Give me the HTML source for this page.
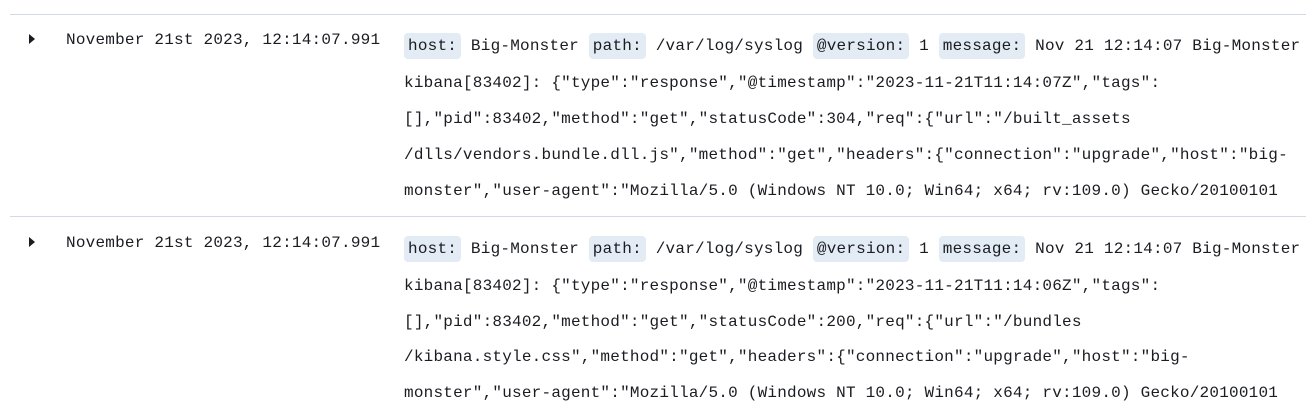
<!DOCTYPE html>
<html><head><meta charset="utf-8"><style>
body{margin:0;width:1306px;height:414px;background:#fff;overflow:hidden;position:relative;font-family:"Liberation Mono",monospace;font-size:16px;letter-spacing:0.22px;color:#1a1c21}
.sep{position:absolute;left:10px;right:0;height:1px;background:#d3dae6}
.l{position:absolute;white-space:pre;line-height:20px}
.p{background:#e3ebf4;border-radius:4px;padding:4px 4px}
.tri{position:absolute;width:0;height:0;border-top:5px solid transparent;border-bottom:5px solid transparent;border-left:6px solid #1a1c21}
</style></head><body>
<div class="sep" style="top:14px"></div>
<div class="tri" style="left:29px;top:34px"></div>
<div class="l" style="left:66px;top:30px">November 21st 2023, 12:14:07.991</div>
<div class="l" style="left:404px;top:36px"><span class="p">host:</span> Big-Monster <span class="p">path:</span> /var/log/syslog <span class="p">@version:</span> 1 <span class="p">message:</span> Nov 21 12:14:07 Big-Monster</div>
<div class="l" style="left:404px;top:73px">kibana[83402]: {"type":"response","@timestamp":"2023-11-21T11:14:07Z","tags":</div>
<div class="l" style="left:404px;top:109px">[],"pid":83402,"method":"get","statusCode":304,"req":{"url":"/built_assets</div>
<div class="l" style="left:404px;top:145px">/dlls/vendors.bundle.dll.js","method":"get","headers":{"connection":"upgrade","host":"big-</div>
<div class="l" style="left:404px;top:181px">monster","user-agent":"Mozilla/5.0 (Windows NT 10.0; Win64; x64; rv:109.0) Gecko/20100101</div>
<div class="sep" style="top:216px"></div>
<div class="tri" style="left:29px;top:237px"></div>
<div class="l" style="left:66px;top:233px">November 21st 2023, 12:14:07.991</div>
<div class="l" style="left:404px;top:239px"><span class="p">host:</span> Big-Monster <span class="p">path:</span> /var/log/syslog <span class="p">@version:</span> 1 <span class="p">message:</span> Nov 21 12:14:07 Big-Monster</div>
<div class="l" style="left:404px;top:276px">kibana[83402]: {"type":"response","@timestamp":"2023-11-21T11:14:06Z","tags":</div>
<div class="l" style="left:404px;top:312px">[],"pid":83402,"method":"get","statusCode":200,"req":{"url":"/bundles</div>
<div class="l" style="left:404px;top:347px">/kibana.style.css","method":"get","headers":{"connection":"upgrade","host":"big-</div>
<div class="l" style="left:404px;top:383px">monster","user-agent":"Mozilla/5.0 (Windows NT 10.0; Win64; x64; rv:109.0) Gecko/20100101</div>
</body></html>
